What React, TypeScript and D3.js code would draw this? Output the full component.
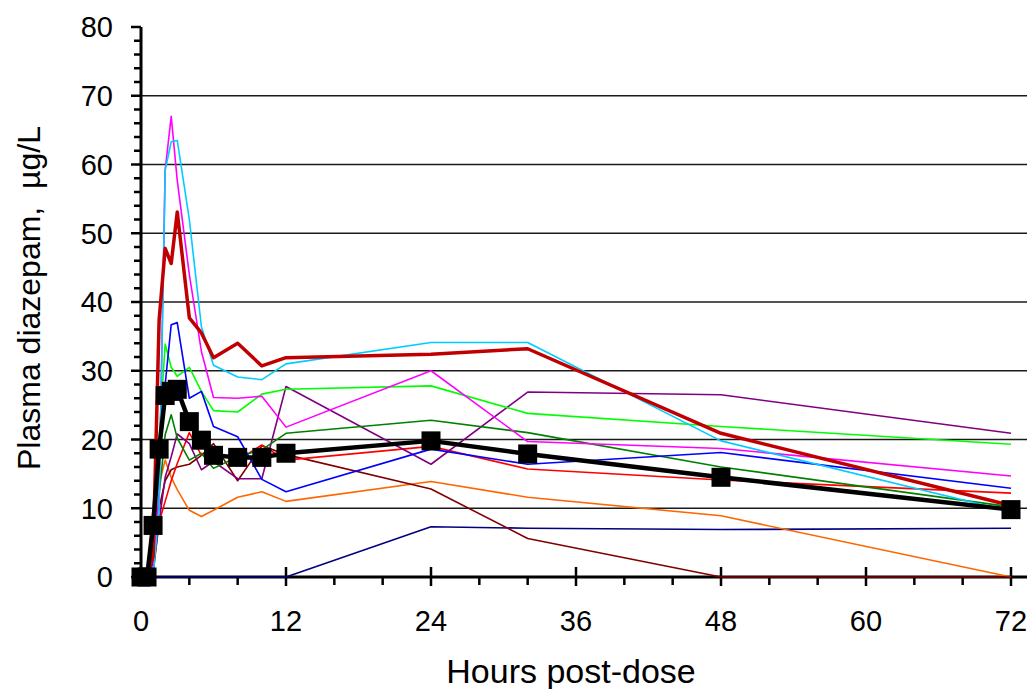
import React from "react";
import * as d3 from "d3";

// Sampling times (hours after the dose)
const hours = [0, 0.5, 1, 1.5, 2, 2.5, 3, 4, 5, 6, 8, 10, 12, 24, 32, 48, 72];

// Individual plasma diazepam profiles (µg/L)
const subjCyan = [0, 0, 0, 10, 59.2, 63.3, 63.5, 52, 36.4, 30.8, 29.1, 28.7, 31.0, 34.1, 34.1, 19.8, 9.5];
const subjMagenta = [0, 0, 1, 12, 59.2, 67.0, 57.7, 44, 32.8, 26.1, 26.0, 26.3, 21.8, 30.0, 19.7, 18.7, 14.7];
const subjBlue = [0, 0, 2, 18, 28, 36.7, 37.0, 26.0, 27.0, 21.9, 20.4, 14.2, 12.4, 18.6, 16.4, 18.1, 12.9];
const subjGreen = [0, 0, 6, 20, 33.9, 30.5, 29.2, 30.5, 27.0, 24.2, 24.0, 26.6, 27.3, 27.8, 23.8, 21.9, 19.3];
const subjDarkGreen = [0, 0, 3, 12, 20.7, 23.6, 20.2, 17.0, 18.0, 15.8, 17.5, 18.5, 20.9, 22.8, 21.0, 16.0, 10.2];
const subjPurple = [0, 0, 1, 8, 14.5, 17.5, 20.8, 19.4, 15.6, 16.8, 14.3, 14.3, 27.7, 16.4, 26.9, 26.5, 20.9];
const subjRed = [0, 0, 0.5, 8, 11, 14, 16.5, 21.0, 17.7, 18.0, 17.0, 19.2, 17.0, 19.0, 15.7, 14.1, 12.2];
const subjBrown = [0, 0, 5, 10, 14, 15.6, 16.0, 16.4, 17.7, 19.4, 14.0, 19.1, 17.8, 12.8, 5.6, 0, 0];
const subjOrange = [0, 0, 10, 13.5, 17.0, 14.5, 12.7, 9.7, 8.8, 9.7, 11.6, 12.4, 11.0, 13.9, 11.6, 8.9, 0];
const subjNavy = [0, 0, 0, 0, 0, 0, 0, 0, 0, 0, 0, 0, 0, 7.3, 7.1, 6.9, 7.1];
const subjDarkRed = [0, 0, 3, 37.4, 47.8, 45.6, 53.1, 37.7, 35.5, 31.9, 34.0, 30.7, 31.9, 32.4, 33.2, 20.9, 10.4];

// Mean profile
const meanConc = [0, 0, 7.5, 18.6, 26.4, 27.0, 27.3, 22.6, 19.9, 17.7, 17.4, 17.4, 18.0, 19.8, 17.9, 14.5, 9.8];

// Axis ticks
const xTicks = [0, 12, 24, 36, 48, 60, 72];
const yTicks = [0, 10, 20, 30, 40, 50, 60, 70, 80];

const thinSeries = [
  { values: subjNavy, color: "#000080" },
  { values: subjOrange, color: "#FF6600" },
  { values: subjBrown, color: "#800000" },
  { values: subjRed, color: "#FF0000" },
  { values: subjPurple, color: "#800080" },
  { values: subjDarkGreen, color: "#008000" },
  { values: subjGreen, color: "#00FF00" },
  { values: subjBlue, color: "#0000FF" },
  { values: subjMagenta, color: "#FF00FF" },
  { values: subjCyan, color: "#00CCFF" },
];

const W = 1027;
const H = 689;
const FONT = "'Liberation Sans', Arial, sans-serif";

export default function App() {
  const x = d3.scaleLinear().domain([0, 72]).range([141, 1011]);
  const y = d3.scaleLinear().domain([0, 80]).range([577, 27]);

  const line = (vals: number[]) =>
    d3
      .line<number>()
      .x((_, i) => x(hours[i]))
      .y((v) => y(v))(vals) as string;

  const yMinor = d3.range(0, 81, 2).filter((v) => v % 10 !== 0);
  const xMinor = d3.range(0, 73, 4).filter((v) => v % 12 !== 0);
  const sq = 19;

  return (
    <svg
      width={W}
      height={H}
      style={{ position: "absolute", left: 0, top: 0, background: "#fff" }}
      fontFamily={FONT}
    >
      <rect width={W} height={H} fill="#fff" />
      {/* horizontal gridlines */}
      {yTicks
        .filter((v) => v > 0 && v < 80)
        .map((v) => (
          <line key={"g" + v} x1={x(0)} x2={W} y1={y(v)} y2={y(v)} stroke="#1a1a1a" strokeWidth={1.6} />
        ))}

      {/* y axis */}
      <line x1={x(0)} x2={x(0)} y1={y(80)} y2={y(0) + 1} stroke="#000" strokeWidth={3} />
      {yTicks.map((v) => (
        <line key={"yt" + v} x1={x(0) - 10} x2={x(0)} y1={y(v)} y2={y(v)} stroke="#000" strokeWidth={2.5} />
      ))}
      {yMinor.map((v) => (
        <line key={"ym" + v} x1={x(0) - 7} x2={x(0)} y1={y(v)} y2={y(v)} stroke="#000" strokeWidth={2.5} />
      ))}
      {yTicks.map((v) => (
        <text key={"yl" + v} x={113} y={y(v)} dy="0.36em" textAnchor="end" fontSize={29} fill="#000">
          {v}
        </text>
      ))}

      {/* x axis */}
      <line x1={x(0)} x2={W} y1={y(0)} y2={y(0)} stroke="#000" strokeWidth={3} />
      {xTicks.map((v) => (
        <line key={"xt" + v} x1={x(v)} x2={x(v)} y1={y(0) - 10} y2={y(0) + 9} stroke="#000" strokeWidth={2.5} />
      ))}
      {xMinor.map((v) => (
        <line key={"xm" + v} x1={x(v)} x2={x(v)} y1={y(0)} y2={y(0) + 8} stroke="#000" strokeWidth={2.5} />
      ))}
      {xTicks.map((v) => (
        <text key={"xl" + v} x={x(v)} y={631} textAnchor="middle" fontSize={29} fill="#000">
          {v}
        </text>
      ))}

      {/* axis titles */}
      <text x={571} y={683} textAnchor="middle" fontSize={34} fill="#000">
        Hours post-dose
      </text>
      <text
        transform={`translate(40,${298}) rotate(-90)`}
        textAnchor="middle"
        fontSize={32}
        fill="#000"
        style={{ whiteSpace: "pre" }}
      >
        {"Plasma diazepam,  µg/L"}
      </text>

      {/* individual subjects */}
      {thinSeries.map((s, i) => (
        <path key={"s" + i} d={line(s.values)} fill="none" stroke={s.color} strokeWidth={1.6} strokeLinejoin="round" />
      ))}
      <path d={line(subjDarkRed)} fill="none" stroke="#C00000" strokeWidth={3.5} strokeLinejoin="round" />

      {/* mean */}
      <path d={line(meanConc)} fill="none" stroke="#000" strokeWidth={4.5} strokeLinejoin="round" />
      {meanConc.map((v, i) => (
        <rect key={"m" + i} x={x(hours[i]) - sq / 2} y={y(v) - sq / 2} width={sq} height={sq} fill="#000" />
      ))}
    </svg>
  );
}
